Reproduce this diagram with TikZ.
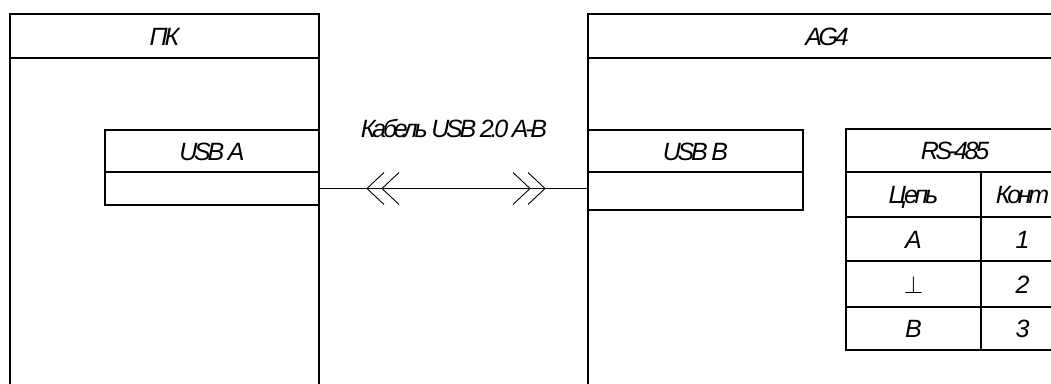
\documentclass[tikz,border=0pt]{standalone}
\usepackage{fontspec}
\setmainfont{Liberation Sans}
\newfontfamily\lblfont[LetterSpace=-13]{Liberation Sans}
\begin{document}
\begin{tikzpicture}[x=1pt,y=-1pt,
  lbl/.style={font=\lblfont\itshape\fontsize{25}{25}\selectfont},
  blk/.style={draw, line width=1.4pt, rectangle, inner sep=0pt, outer sep=0pt,
    anchor=north west, lbl, text height=18pt, text depth=0pt},
  wire/.style={line width=0.9pt},
]
\useasboundingbox (0,0) rectangle (1051,383);
\clip (0,0) rectangle (1051,383);

% PC block
\node[blk, minimum width=309, minimum height=390] (pc) at (10,14) {};
\node[blk, minimum width=309, minimum height=44] (pcH) at (10,14) {ПК};
\node[blk, minimum width=214, minimum height=42] (uaH) at (105,130) {USB A};
\node[blk, minimum width=214, minimum height=33] (ua) at (105,172) {};

% AG4 block
\node[blk, minimum width=478, minimum height=390] (ag) at (588,14) {};
\node[blk, minimum width=478, minimum height=44] (agH) at (588,14) {AG4};
\node[blk, minimum width=215, minimum height=42] (ubH) at (588,130) {USB B};
\node[blk, minimum width=215, minimum height=38] (ub) at (588,172) {};

% RS-485 pin table
\node[blk, minimum width=218, minimum height=43] (rsH) at (846,129) {RS-485};
\node[blk, minimum width=135, minimum height=45] (r1a) at (846,172) {Цепь};
\node[blk, minimum width=83,  minimum height=45] (r1b) at (981,172) {Конт};
\node[blk, minimum width=135, minimum height=44] (r2a) at (846,217) {A};
\node[blk, minimum width=83,  minimum height=44] (r2b) at (981,217) {1};
\node[blk, minimum width=135, minimum height=46] (r3a) at (846,261) {$\perp$};
\node[blk, minimum width=83,  minimum height=46] (r3b) at (981,261) {2};
\node[blk, minimum width=135, minimum height=43] (r4a) at (846,307) {B};
\node[blk, minimum width=83,  minimum height=43] (r4b) at (981,307) {3};

% USB cable
\coordinate (ce) at (ub.west |- ua.east);
\draw[wire] (ua.east) -- (ce);
\node[lbl, anchor=base] (cab) at (454,137) {Кабель USB 2.0 A-B};

% connector chevrons on the cable
\coordinate (l1) at (367,188.5);
\coordinate (l2) at (382,188.5);
\coordinate (g1) at (530,188.5);
\coordinate (g2) at (545,188.5);
\draw[wire] (l1) ++(17,-16) -- (l1) -- ++(17,16);
\draw[wire] (l2) ++(17,-16) -- (l2) -- ++(17,16);
\draw[wire] (g1) ++(-17,-16) -- (g1) -- ++(-17,16);
\draw[wire] (g2) ++(-17,-16) -- (g2) -- ++(-17,16);
\end{tikzpicture}
\end{document}
